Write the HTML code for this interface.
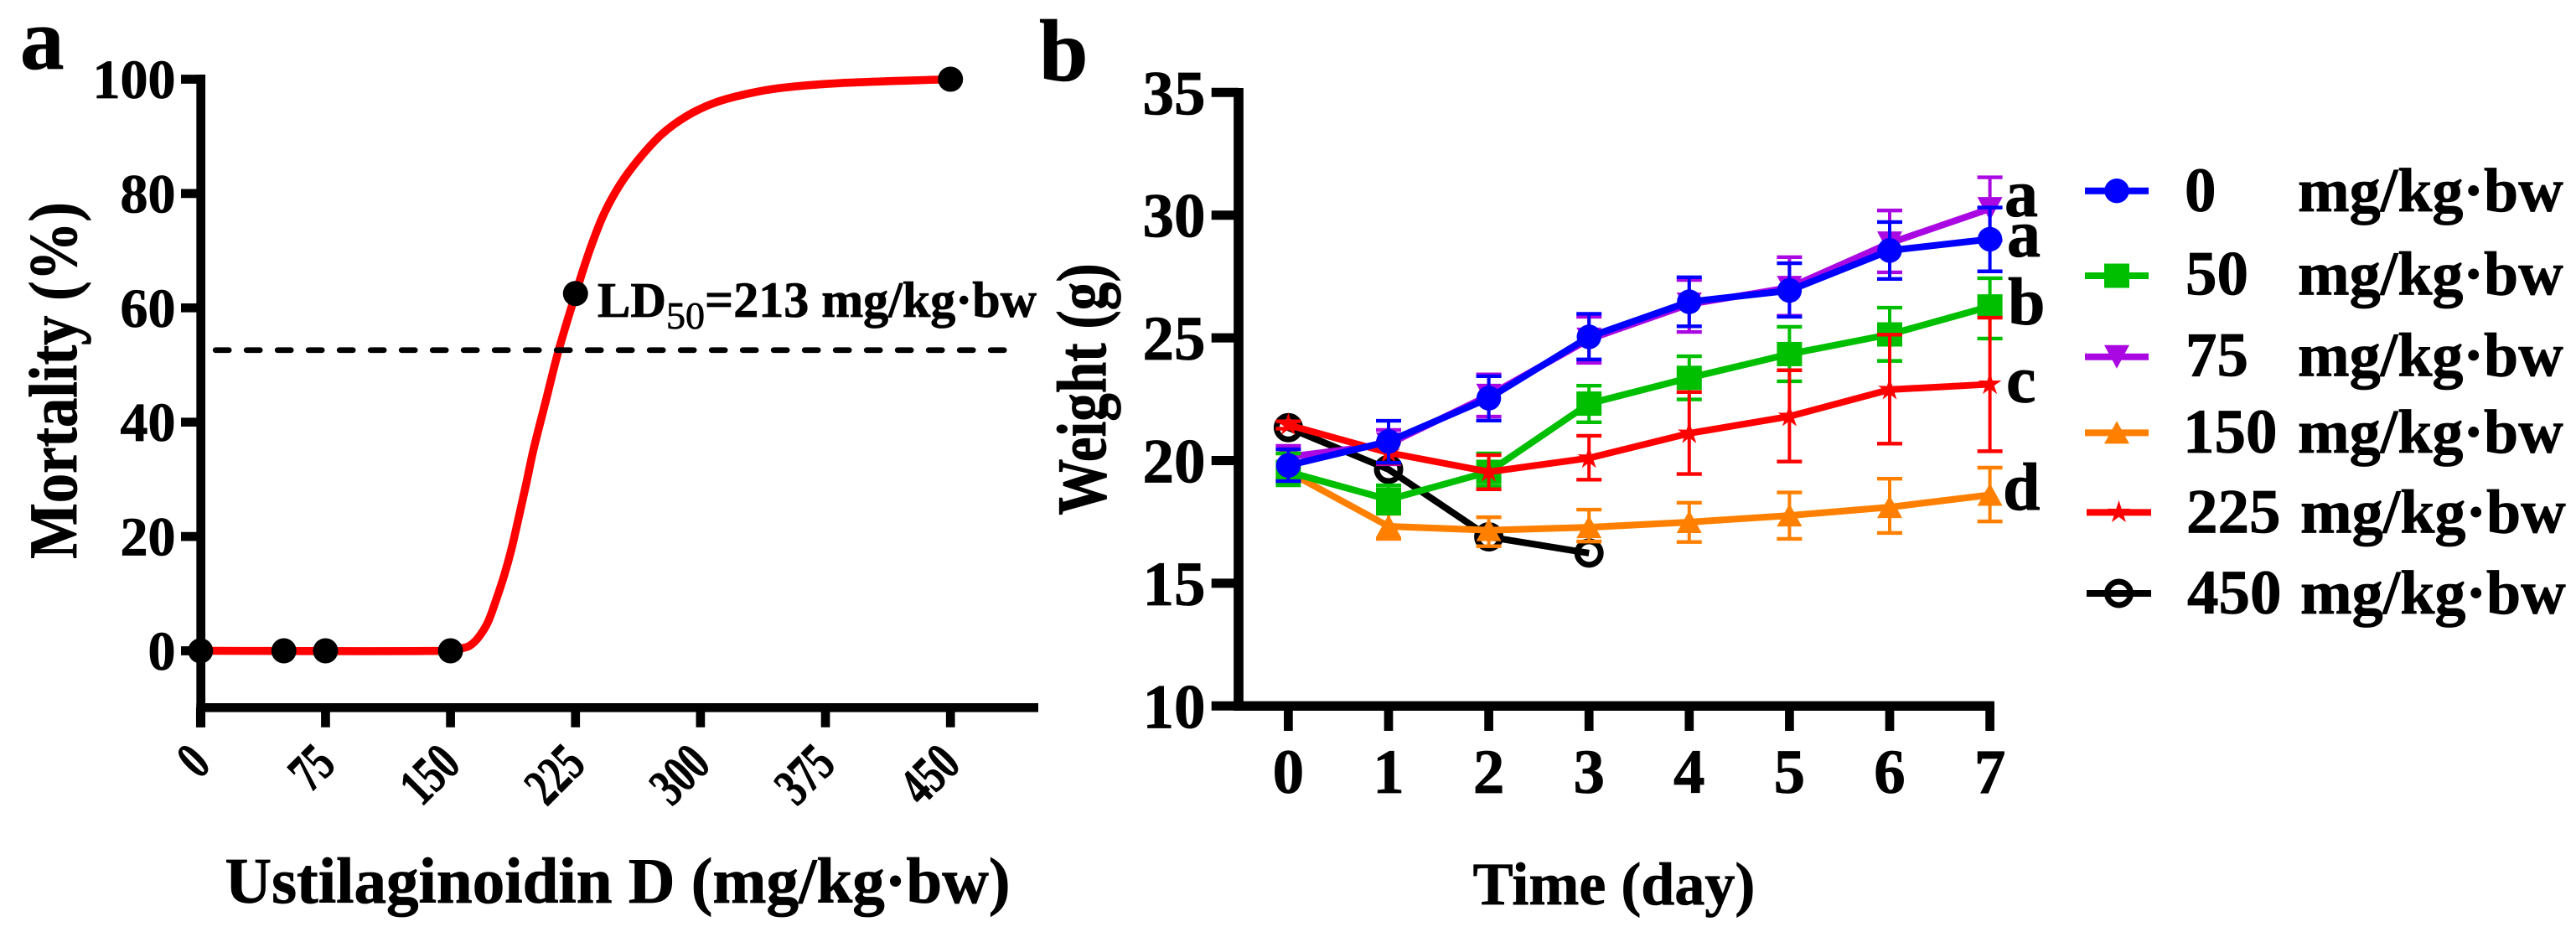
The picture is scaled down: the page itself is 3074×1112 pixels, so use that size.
<!DOCTYPE html>
<html lang="en">
<head>
<meta charset="utf-8">
<title>Ustilaginoidin D toxicity charts</title>
<style>
html,body{margin:0;padding:0;background:#fff;}
svg{display:block;}
text{font-family:"Liberation Serif",serif;font-weight:bold;fill:#000;stroke:#000;stroke-width:0.8px;}
</style>
</head>
<body>
<svg id="fig" xmlns="http://www.w3.org/2000/svg" width="3074" height="1112" viewBox="0 0 3074 1112">
  <rect x="0" y="0" width="3074" height="1112" fill="#fff"/>
  <text x="24" y="82" font-size="105">a</text>
  <text x="1240" y="96" font-size="105">b</text>
  <text transform="translate(91 454) rotate(-90) scale(0.862 1)" x="0" y="0" text-anchor="middle" font-size="82">Mortality (%)</text>
  <text x="737" y="1077" text-anchor="middle" font-size="77">Ustilaginoidin D (mg/kg·bw)</text>
  <text transform="translate(1319 464.5) rotate(-90) scale(0.8 1)" x="0" y="0" text-anchor="middle" font-size="84">Weight (g)</text>
  <text x="1926" y="1079" text-anchor="middle" font-size="72">Time (day)</text>
  <text x="713" y="378" font-size="59">LD<tspan x="795" y="392" font-size="46" font-weight="normal">50</tspan><tspan x="841" y="378" font-size="60">=213 mg/kg·bw</tspan></text>
  <text x="2392" y="258" font-size="80">a</text>
  <text x="2395" y="306" font-size="80">a</text>
  <text x="2396" y="387" font-size="80">b</text>
  <text x="2394" y="480" font-size="80">c</text>
  <text x="2390" y="608" font-size="80">d</text>
  <g id="panelA"></g>
  <g id="panelB"></g>
  <g id="legend"></g>
</svg>
<script>
// Panel a data
const mortDoses = [0, 50, 75, 150, 225, 450];
const mortValues = [0, 0, 0, 0, 62.5, 100];
const curveDoses = [0, 150, 157.1, 161.3, 166.3, 172.2, 177.2, 182.2, 186.4, 190.6, 195.1, 199.8, 207, 214.9, 225.1, 233.3, 241.7, 251.8, 263.5, 276.9, 292, 308.7, 328.9, 349, 382.5, 450];
const curveMortality = [0, 0, 0.47, 0.85, 2.17, 4.87, 8.77, 13.2, 17.6, 22.9, 28.8, 35.2, 43.5, 52.6, 62.5, 69.9, 76.2, 81.6, 86.2, 90.4, 93.6, 95.9, 97.5, 98.5, 99.3, 100];
const mortXTicks = [0, 75, 150, 225, 300, 375, 450];
const mortYTicks = [0, 20, 40, 60, 80, 100];
const dashDoses = [9, 492];
const dashMortality = 52.6;

// Panel b data
const days = [0, 1, 2, 3, 4, 5, 6, 7];
const weightYTicks = [10, 15, 20, 25, 30, 35];
const seriesDoses = ['450', '150', '75', '50', '225', '0'];
const mean450 = [21.34, 19.64, 16.89, 16.23];
const mean150 = [19.54, 17.32, 17.16, 17.28, 17.49, 17.76, 18.10, 18.60];
const upper150 = [20.29, 17.83, 17.69, 18.00, 18.28, 18.70, 19.26, 19.71];
const lower150 = [19.20, 16.81, 16.51, 16.70, 16.68, 16.81, 17.05, 17.52];
const mean75 = [20.15, 20.67, 22.65, 24.94, 26.37, 27.05, 28.86, 30.26];
const upper75 = [20.60, 21.25, 23.51, 25.86, 27.36, 28.29, 30.19, 31.54];
const lower75 = [19.71, 19.85, 21.79, 23.98, 25.24, 25.90, 27.67, 28.97];
const mean50 = [19.54, 18.41, 19.54, 22.32, 23.37, 24.34, 25.14, 26.28];
const upper50 = [20.29, 18.99, 20.29, 23.05, 24.25, 25.45, 26.23, 27.43];
const lower50 = [18.99, 17.84, 18.96, 21.56, 22.49, 23.23, 24.06, 24.97];
const mean225 = [21.45, 20.32, 19.54, 20.10, 21.11, 21.80, 22.89, 23.11];
const upper225 = [21.60, 20.77, 20.22, 21.01, 22.79, 23.68, 25.13, 25.82];
const lower225 = [21.30, 19.88, 18.83, 19.22, 19.45, 19.96, 20.69, 20.38];
const mean0 = [19.80, 20.78, 22.54, 25.04, 26.47, 26.93, 28.56, 29.02];
const upper0 = [20.46, 21.62, 23.44, 25.98, 27.47, 28.04, 29.72, 30.31];
const lower0 = [19.16, 19.91, 21.63, 24.12, 25.47, 25.86, 27.40, 27.71];

// Legend data
const legendDoses = ['0', '50', '75', '150', '225', '450'];
const legendUnit = 'mg/kg·bw';

const NS = 'http://www.w3.org/2000/svg';
const panelA = document.getElementById('panelA');
const panelB = document.getElementById('panelB');
const legendG = document.getElementById('legend');

function make(tag, attrs, parent) {
  const el = document.createElementNS(NS, tag);
  for (const k in attrs) el.setAttribute(k, attrs[k]);
  parent.appendChild(el);
  return el;
}

// Axis functions
function xA(d) { return 239.3 + d * 1.9887; }
function yA(m) { return 776.5 - m * 6.82; }
function xB(d) { return 1537.4 + d * 119.6; }
function yB(v) { return 842.3 - (v - 10) * 29.28; }

// Panel a axes
let el = make('line', {x1: 239.7, x2: 239.7, y1: 89, y2: 867.7, stroke: '#000', 'stroke-width': 10.7}, panelA);


el = make('line', {x1: 234.3, x2: 1239, y1: 844.3, y2: 844.3, stroke: '#000', 'stroke-width': 10.7}, panelA);



mortYTicks.forEach(function (t) {
  const tick = make('line', {x1: 216, x2: 240, y1: yA(t), y2: yA(t), stroke: '#000', 'stroke-width': 10.7}, panelA);
  
  
  const label = make('text', {x: 209.5, y: yA(t) + 22.5, 'text-anchor': 'end', 'font-size': 66}, panelA);
  label.textContent = String(t);
  
  
});

mortXTicks.forEach(function (t) {
  const tick = make('line', {x1: xA(t), x2: xA(t), y1: 844, y2: 867.7, stroke: '#000', 'stroke-width': 10.7}, panelA);
  
  
  const px = xA(t) + 14.4;
  const label = make('text', {x: 0, y: 0, 'text-anchor': 'end', 'font-size': 64, transform: 'translate(' + px + ' 914.4) rotate(-45) scale(0.72 1)'}, panelA);
  label.textContent = String(t);
  
  
});

// Fitted curve: smooth spline through the read points, handles scaled by chord length
function splinePath(xs, ys) {
  const n = xs.length;
  const tx = [], ty = [];
  for (let i = 0; i < n; i++) {
    const a = Math.max(i - 1, 0), b = Math.min(i + 1, n - 1);
    const dx = xs[b] - xs[a], dy = ys[b] - ys[a];
    const len = Math.hypot(dx, dy) || 1;
    tx.push(dx / len);
    ty.push(dy / len);
  }
  let d = 'M' + xs[0].toFixed(2) + ' ' + ys[0].toFixed(2);
  for (let i = 0; i < n - 1; i++) {
    const h = Math.hypot(xs[i + 1] - xs[i], ys[i + 1] - ys[i]) / 3;
    d += 'C' + (xs[i] + tx[i] * h).toFixed(2) + ' ' + (ys[i] + ty[i] * h).toFixed(2) + ' ' +
      (xs[i + 1] - tx[i + 1] * h).toFixed(2) + ' ' + (ys[i + 1] - ty[i + 1] * h).toFixed(2) + ' ' +
      xs[i + 1].toFixed(2) + ' ' + ys[i + 1].toFixed(2);
  }
  return d;
}
el = make('path', {d: splinePath(curveDoses.map(xA), curveMortality.map(yA)), fill: 'none', stroke: '#ff0000', 'stroke-width': 9.6}, panelA);



el = make('line', {x1: xA(dashDoses[0]), x2: xA(dashDoses[1]), y1: yA(dashMortality), y2: yA(dashMortality), stroke: '#000', 'stroke-width': 6.7, 'stroke-linecap': 'round', 'stroke-dasharray': '16 21'}, panelA);



mortDoses.forEach(function (d, i) {
  const pt = make('circle', {cx: xA(d), cy: yA(mortValues[i]), r: 15, fill: '#000'}, panelA);
  
  
});

// Panel b axes
el = make('line', {x1: 1478, x2: 1478, y1: 105, y2: 848, stroke: '#000', 'stroke-width': 11.7}, panelB);


el = make('line', {x1: 1472, x2: 2380, y1: 842.3, y2: 842.3, stroke: '#000', 'stroke-width': 11.3}, panelB);



weightYTicks.forEach(function (t) {
  const tick = make('line', {x1: 1445.7, x2: 1478, y1: yB(t), y2: yB(t), stroke: '#000', 'stroke-width': 11}, panelB);
  
  
  const label = make('text', {x: 1438.5, y: yB(t) + 26, 'text-anchor': 'end', 'font-size': 75}, panelB);
  label.textContent = String(t);
  
  
});

days.forEach(function (t) {
  const tick = make('line', {x1: xB(t), x2: xB(t), y1: 842, y2: 872, stroke: '#000', 'stroke-width': 10.7}, panelB);
  
  
  const label = make('text', {x: xB(t), y: 946, 'text-anchor': 'middle', 'font-size': 75}, panelB);
  label.textContent = String(t);
  
  
});

// Marker glyphs
function marker(parent, kind, cx, cy, color) {
  let m;
  if (kind === 'circle') {
    m = make('circle', {cx: cx, cy: cy, r: 14.7, fill: color}, parent);
  } else if (kind === 'square') {
    m = make('rect', {x: cx - 15, y: cy - 14.5, width: 30, height: 29, fill: color}, parent);
  } else if (kind === 'down') {
    m = make('polygon', {points: (cx - 15) + ',' + (cy - 14) + ' ' + (cx + 15) + ',' + (cy - 14) + ' ' + cx + ',' + (cy + 14), fill: color}, parent);
  } else if (kind === 'up') {
    m = make('polygon', {points: (cx - 15) + ',' + (cy + 13) + ' ' + (cx + 15) + ',' + (cy + 13) + ' ' + cx + ',' + (cy - 14), fill: color}, parent);
  } else if (kind === 'star') {
    const pts = [];
    for (let k = 0; k < 10; k++) {
      const r = k % 2 ? 5.4 : 14.5;
      const a = -Math.PI / 2 + k * Math.PI / 5;
      pts.push((cx + r * Math.cos(a)).toFixed(2) + ',' + (cy + r * Math.sin(a)).toFixed(2));
    }
    m = make('polygon', {points: pts.join(' '), fill: color}, parent);
  } else {
    m = make('circle', {cx: cx, cy: cy, r: 14, fill: 'none', stroke: color, 'stroke-width': 7}, parent);
  }
  return m;
}

function drawSeries(dose, color, kind, means, uppers, lowers) {
  const g = make('g', {}, panelB);
  
  
  if (uppers) {
    means.forEach(function (v, i) {
      const x = xB(days[i]);
      const stem = make('line', {x1: x, x2: x, y1: yB(uppers[i]), y2: yB(lowers[i]), stroke: color, 'stroke-width': 4}, g);
      
      
      const capTop = make('line', {x1: x - 15, x2: x + 15, y1: yB(uppers[i]), y2: yB(uppers[i]), stroke: color, 'stroke-width': 4.4}, g);
      
      
      const capBottom = make('line', {x1: x - 15, x2: x + 15, y1: yB(lowers[i]), y2: yB(lowers[i]), stroke: color, 'stroke-width': 4.4}, g);
      
      
    });
  }
  const pts = means.map(function (v, i) { return xB(days[i]).toFixed(2) + ',' + yB(v).toFixed(2); }).join(' ');
  const line = make('polyline', {points: pts, fill: 'none', stroke: color, 'stroke-width': 8, 'stroke-linejoin': 'round'}, g);
  
  
  means.forEach(function (v, i) {
    const m = marker(g, kind, xB(days[i]), yB(v), color);
    
    
  });
}

const BLUE = '#0000ff', GREEN = '#00bf00', PURPLE = '#aa08e2', ORANGE = '#ff8000', RED = '#ff0000', BLACK = '#000000';
drawSeries(seriesDoses[0], BLACK, 'ring', mean450, null, null);
drawSeries(seriesDoses[1], ORANGE, 'up', mean150, upper150, lower150);
drawSeries(seriesDoses[2], PURPLE, 'down', mean75, upper75, lower75);
drawSeries(seriesDoses[3], GREEN, 'square', mean50, upper50, lower50);
drawSeries(seriesDoses[4], RED, 'star', mean225, upper225, lower225);
drawSeries(seriesDoses[5], BLUE, 'circle', mean0, upper0, lower0);

// Legend rows: layout only, doses come from legendDoses
const legendLayout = [
  {color: BLUE, kind: 'circle', y: 227.7, x1: 2488, x2: 2564, base: 252, nx: 2607, ux: 2742},
  {color: GREEN, kind: 'square', y: 329, x1: 2488, x2: 2564, base: 351.7, nx: 2608, ux: 2742},
  {color: PURPLE, kind: 'down', y: 425.7, x1: 2488, x2: 2564, base: 448.3, nx: 2608, ux: 2742},
  {color: ORANGE, kind: 'up', y: 516.4, x1: 2488, x2: 2564, base: 540, nx: 2605, ux: 2742},
  {color: RED, kind: 'star', y: 611.4, x1: 2490, x2: 2567, base: 635.5, nx: 2609, ux: 2745},
  {color: BLACK, kind: 'ring', y: 708, x1: 2490, x2: 2567, base: 732, nx: 2610, ux: 2745}
];
legendDoses.forEach(function (dose, i) {
  const L = legendLayout[i];
  const row = make('g', {}, legendG);
  
  
  const sw = make('line', {x1: L.x1, x2: L.x2, y1: L.y, y2: L.y, stroke: L.color, 'stroke-width': 8}, row);
  
  
  const mk = marker(row, L.kind, (L.x1 + L.x2) / 2, L.y, L.color);
  
  
  const num = make('text', {x: L.nx, y: L.base, 'font-size': 75}, row);
  num.textContent = dose;
  
  
  const unit = make('text', {x: L.ux, y: L.base, 'font-size': 74}, row);
  unit.textContent = legendUnit;
  
  
});
</script>
</body>
</html>
